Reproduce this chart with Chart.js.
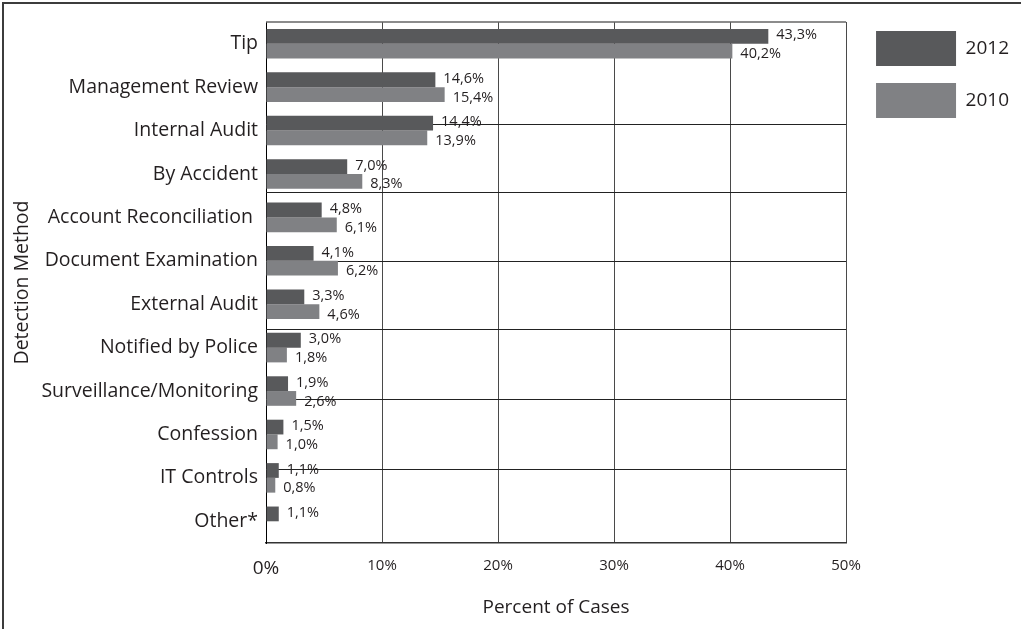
<!DOCTYPE html>
<html>
<head>
<meta charset="utf-8">
<script src="https://cdn.jsdelivr.net/npm/chart.js@4.4.1/dist/chart.umd.min.js"></script>
<style>
  html, body { margin: 0; padding: 0; background: #fff; }
  #wrap { position: relative; width: 1021px; height: 629px; }
  #frame { position: absolute; left: 2px; top: 2px; right: 0; bottom: 0;
           border-left: 2px solid #3c3c3c; border-top: 2px solid #3c3c3c; pointer-events: none; }
</style>
</head>
<body>
<div id="wrap">
  <canvas id="detectionChart"></canvas>
  <div id="frame"></div>
</div>
<script>
const methods = ['Tip', 'Management Review', 'Internal Audit', 'By Accident', 'Account Reconciliation ',
  'Document Examination', 'External Audit', 'Notified by Police', 'Surveillance/Monitoring',
  'Confession', 'IT Controls', 'Other*'];
const cases2012 = [43.3, 14.6, 14.4, 7.0, 4.8, 4.1, 3.3, 3.0, 1.9, 1.5, 1.1, 1.1];
const cases2010 = [40.2, 15.4, 13.9, 8.3, 6.1, 6.2, 4.6, 1.8, 2.6, 1.0, 0.8, null];
const xTicks = [0, 10, 20, 30, 40, 50];

const font = '"Open Sans", "Noto Sans", sans-serif';
const ink = '#231f20';
const pct = v => v.toFixed(1).replace('.', ',') + '%';

// top frame line + the horizontal rules of the original grid (in row units)
const rowRules = {
  id: 'rowRules',
  beforeDatasetsDraw(chart) {
    const {ctx, chartArea: a, scales: {y}} = chart;
    ctx.save();
    ctx.strokeStyle = '#666';
    ctx.lineWidth = 1.5;
    ctx.beginPath();
    ctx.moveTo(a.left, a.top);
    ctx.lineTo(a.right, a.top);
    ctx.stroke();
    ctx.strokeStyle = '#222';
    ctx.lineWidth = 1;
    [1.84, 3.42, 5.0, 6.58, 8.19, 9.79].forEach(row => {
      const py = Math.round(y.getPixelForValue(row)) + 0.5;
      ctx.beginPath();
      ctx.moveTo(a.left, py);
      ctx.lineTo(a.right, py);
      ctx.stroke();
    });
    ctx.restore();
  }
};

// value labels to the right of each bar
const barLabels = {
  id: 'barLabels',
  afterDatasetsDraw(chart) {
    const {ctx} = chart;
    ctx.save();
    ctx.font = '14.5px ' + font;
    ctx.fillStyle = ink;
    ctx.textBaseline = 'middle';
    chart.data.datasets.forEach((ds, i) => {
      chart.getDatasetMeta(i).data.forEach((bar, j) => {
        const v = ds.data[j];
        if (v == null) return;
        ctx.fillText(pct(v), bar.x + 8, bar.y + (i === 0 ? -1 : 3));
      });
    });
    ctx.restore();
  }
};

new Chart(document.getElementById('detectionChart'), {
  type: 'bar',
  data: {
    labels: methods,
    datasets: [{
      label: '2012',
      data: cases2012,
      backgroundColor: '#58595b',
      categoryPercentage: 0.68,
      barPercentage: 1.0
    }, {
      label: '2010',
      data: cases2010,
      backgroundColor: '#808184',
      categoryPercentage: 0.68,
      barPercentage: 1.0
    }]
  },
  plugins: [rowRules, barLabels],
  options: {
    indexAxis: 'y',
    responsive: true,
    maintainAspectRatio: false,
    animation: false,
    layout: {padding: {top: 14, left: 4, right: 2, bottom: 0}},
    plugins: {
      tooltip: {enabled: false},
      // empty title only pushes the plot area down a bit
      title: {display: true, text: '', font: {size: 5}, padding: {top: 0, bottom: 2}},
      legend: {
        position: 'right',
        align: 'start',
        labels: {
          boxWidth: 80,
          boxHeight: 35,
          padding: 17,
          color: ink,
          font: {family: font, size: 19}
        }
      }
    },
    scales: {
      x: {
        min: 0,
        max: 50,
        z: 1,
        afterBuildTicks: s => { s.ticks = xTicks.map(v => ({value: v})); },
        afterFit: s => { s.height = 86; },
        grid: {
          drawTicks: false,
          color: c => c.tick && c.tick.value === 0 ? '#000' : '#4a4a4a',
          lineWidth: 1
        },
        border: {display: true, color: '#333', width: 1.5},
        ticks: {
          padding: 14,
          color: ink,
          font: c => ({family: font, size: c.tick && c.tick.value === 0 ? 19 : 15}),
          callback: v => v + '%'
        },
        title: {
          display: true,
          text: 'Percent of Cases',
          color: ink,
          font: {family: font, size: 19},
          padding: {top: 0, bottom: 10}
        }
      },
      y: {
        afterFit: s => { s.width = 262; },
        grid: {display: false, drawTicks: false},
        border: {display: true, color: '#000', width: 1},
        ticks: {
          padding: 8,
          color: ink,
          font: {family: font, size: 19.5}
        },
        title: {
          display: true,
          text: 'Detection Method',
          color: ink,
          font: {family: font, size: 19.5},
          padding: {top: 7, bottom: 0}
        }
      },
      // empty axis, just keeps the gap between plot and legend
      gap: {
        type: 'linear',
        position: 'right',
        afterFit: s => { s.width = 13; },
        ticks: {display: false},
        border: {display: false},
        grid: {display: false, drawTicks: false}
      }
    }
  }
});
</script>
</body>
</html>
